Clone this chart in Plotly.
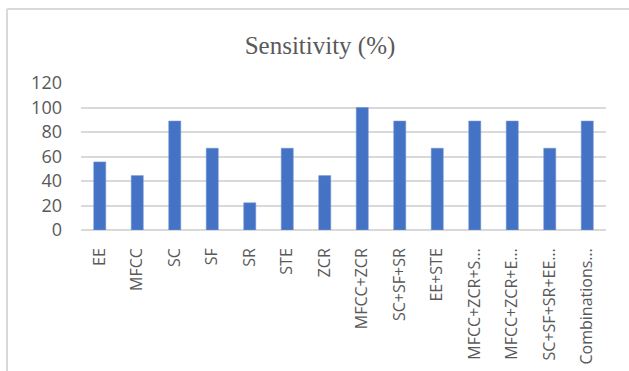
import plotly.graph_objects as go

# Feature sets and their sensitivity scores (%)
features = ["EE", "MFCC", "SC", "SF", "SR", "STE", "ZCR", "MFCC+ZCR", "SC+SF+SR",
            "EE+STE", "MFCC+ZCR+S…", "MFCC+ZCR+E…", "SC+SF+SR+EE…", "Combinations…"]
sensitivity = [55.6, 44.4, 88.9, 66.7, 22.2, 66.7, 44.4, 100, 88.9,
               66.7, 88.9, 88.9, 66.7, 88.9]
y_ticks = [0, 20, 40, 60, 80, 100, 120]

W, H = 629, 371
L, R, T, B = 81, 23, 83, 141
pw, ph = W - L - R, H - T - B

fig = go.Figure(go.Bar(
    x=features, y=sensitivity,
    marker=dict(color="#4472C4", line=dict(color="#6f93d4", width=0.6)),
))

# light chart-area frame (left and top edges)
fx0 = (7 - L) / pw
fy1 = 1 + (T - 9) / ph
fig.add_shape(type="line", xref="paper", yref="paper", x0=fx0, x1=fx0, y0=-2, y1=fy1,
              line=dict(color="#d9d9d9", width=2))
fig.add_shape(type="line", xref="paper", yref="paper", x0=fx0, x1=1.2, y0=fy1, y1=fy1,
              line=dict(color="#d9d9d9", width=2))

fig.update_layout(
    width=W, height=H,
    margin=dict(l=L, r=R, t=T, b=B),
    paper_bgcolor="white", plot_bgcolor="white",
    bargap=0.68,
    showlegend=False,
    title=dict(text="Sensitivity (%)", x=320 / W, xanchor="center", xref="container",
               y=1 - 45 / H, yanchor="middle", yref="container",
               font=dict(family="Liberation Serif", size=25, color="#595959")),
    font=dict(family="Open Sans", color="#595959"),
)
fig.update_yaxes(range=[0, 120], tickvals=y_ticks, showgrid=True, gridcolor="#d9d9d9",
                 gridwidth=1.5, zeroline=True, zerolinecolor="#d9d9d9", zerolinewidth=1.5,
                 showline=False, ticks="", ticklabelstandoff=18, automargin=False,
                 tickfont=dict(family="Open Sans", size=18, color="#595959"))
fig.update_xaxes(tickangle=-90, showgrid=False, showline=False, ticks="",
                 ticklabelstandoff=14, automargin=False,
                 tickfont=dict(family="Open Sans", size=16, color="#595959"))

fig.write_html("out.html")
